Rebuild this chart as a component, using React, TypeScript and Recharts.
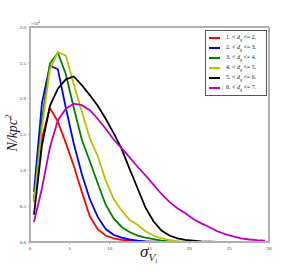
import React from 'react';
import { LineChart, Line, XAxis, YAxis, Legend } from 'recharts';

// bin centres of sigma_Vt
const sigmaBins = [
  0.5, 1.5, 2.5, 3.5, 4.5, 5.5, 6.5, 7.5, 8.5, 9.5,
  10.5, 11.5, 12.5, 13.5, 14.5, 15.5, 16.5, 17.5, 18.5, 19.5,
  20.5, 21.5, 22.5, 23.5, 24.5, 25.5, 26.5, 27.5, 28.5, 29.5,
];

// N/kpc^2 in units of 1e4
const dg1to2 = [0.6, 1.45, 1.87, 1.68, 1.38, 1.06, 0.7, 0.36, 0.18, 0.09, 0.05, 0.03, 0.02, 0.01, 0.005, 0, 0, 0, 0, 0, 0, 0, 0, 0, 0, 0, 0, 0, 0, 0];
const dg2to3 = [0.7, 1.94, 2.46, 2.41, 1.87, 1.37, 0.95, 0.6, 0.35, 0.18, 0.1, 0.06, 0.035, 0.02, 0.01, 0.005, 0, 0, 0, 0, 0, 0, 0, 0, 0, 0, 0, 0, 0, 0];
const dg3to4 = [0.57, 1.7, 2.49, 2.64, 2.34, 1.87, 1.43, 1.13, 0.82, 0.52, 0.33, 0.21, 0.14, 0.09, 0.06, 0.04, 0.02, 0.01, 0.005, 0, 0, 0, 0, 0, 0, 0, 0, 0, 0, 0];
const dg4to5 = [0.55, 1.6, 2.41, 2.65, 2.6, 2.2, 1.82, 1.45, 1.2, 0.86, 0.6, 0.44, 0.31, 0.24, 0.15, 0.09, 0.05, 0.03, 0.01, 0.005, 0, 0, 0, 0, 0, 0, 0, 0, 0, 0];
const dg5to6 = [0.38, 1.35, 1.9, 2.14, 2.27, 2.31, 2.19, 2.05, 1.9, 1.72, 1.52, 1.3, 1.02, 0.75, 0.48, 0.29, 0.16, 0.09, 0.05, 0.03, 0.02, 0.01, 0.005, 0, 0, 0, 0, 0, 0, 0];
const dg6to7 = [0.28, 0.75, 1.32, 1.7, 1.86, 1.93, 1.91, 1.84, 1.72, 1.58, 1.43, 1.31, 1.18, 1.05, 0.93, 0.8, 0.67, 0.56, 0.47, 0.4, 0.32, 0.26, 0.21, 0.15, 0.11, 0.08, 0.05, 0.035, 0.025, 0.02];

const xTicks = [0, 5, 10, 15, 20, 25, 30];
const yTicks = [0, 0.5, 1, 1.5, 2, 2.5, 3];

const series = [
  { key: 'a', lo: '1.', hi: '2.', color: '#ff0000', values: dg1to2 },
  { key: 'b', lo: '2.', hi: '3.', color: '#0000ff', values: dg2to3 },
  { key: 'c', lo: '3.', hi: '4.', color: '#008000', values: dg3to4 },
  { key: 'd', lo: '4.', hi: '5.', color: '#bfbf00', values: dg4to5 },
  { key: 'e', lo: '5.', hi: '6.', color: '#000000', values: dg5to6 },
  { key: 'f', lo: '6.', hi: '7.', color: '#bf00bf', values: dg6to7 },
];

const data = sigmaBins.map((s, i) => {
  const row: Record<string, number> = { s };
  series.forEach((sr) => { row[sr.key] = sr.values[i]; });
  return row;
});

const axisGrey = '#b0b0b0';
const serif = '"Liberation Serif", "DejaVu Serif", serif';
const tickStyle = { fill: '#333', fontSize: 5, fontFamily: serif };

const LegendBox = () => (
  <div style={{ border: '1px solid #555', background: '#fff', padding: '2px 3px', fontFamily: serif, fontSize: 6, color: '#222', width: 54 }}>
    {series.map((sr) => (
      <div key={sr.key} style={{ display: 'flex', alignItems: 'center', height: 10, whiteSpace: 'nowrap' }}>
        <span style={{ display: 'inline-block', width: 11, height: 2, background: sr.color, marginRight: 6 }} />
        <span>{sr.lo} &lt; <i>d</i><sub style={{ fontSize: 4 }}>g</sub> &lt;= {sr.hi}</span>
      </div>
    ))}
  </div>
);

const App: React.FC = () => {
  return (
    <div style={{ position: 'absolute', left: 0, top: 0, width: 300, height: 270, background: '#fff' }}>
      <LineChart width={300} height={270} data={data} margin={{ top: 26, right: 30, left: 0, bottom: 0 }}>
        <XAxis
          dataKey="s"
          type="number"
          domain={[0, 30]}
          ticks={xTicks}
          allowDataOverflow
          tick={tickStyle}
          tickSize={2}
          tickLine={{ stroke: axisGrey }}
          axisLine={{ stroke: axisGrey, strokeWidth: 2 }}
          height={28}
          label={{
            content: () => (
              <text x={140} y={257} fontFamily={serif} fontStyle="italic" fill="#222">
                <tspan fontSize={17}>σ</tspan>
                <tspan fontSize={11} dy={4}>V</tspan>
                <tspan fontSize={7} dy={2}>t</tspan>
              </text>
            ),
          }}
        />
        <XAxis
          xAxisId="top"
          orientation="top"
          dataKey="s"
          type="number"
          domain={[0, 30]}
          ticks={xTicks}
          tick={false}
          tickSize={2}
          tickLine={{ stroke: axisGrey }}
          axisLine={{ stroke: axisGrey, strokeWidth: 2 }}
          height={1}
        />
        <YAxis
          type="number"
          domain={[0, 3]}
          ticks={yTicks}
          allowDataOverflow
          tickFormatter={(v: number) => v.toFixed(1)}
          tick={tickStyle}
          tickSize={2}
          tickLine={{ stroke: axisGrey }}
          axisLine={{ stroke: axisGrey, strokeWidth: 2 }}
          width={30}
          label={{
            content: () => (
              <g>
                <text x={31} y={25} fontFamily={serif} fontSize={4.5} fill="#333">
                  ×10<tspan fontSize={3.5} dy={-2}>4</tspan>
                </text>
                <text
                  x={17}
                  y={133}
                  transform="rotate(-90 17 133)"
                  textAnchor="middle"
                  fontFamily={serif}
                  fontStyle="italic"
                  fontSize={14}
                  fill="#222"
                >
                  N/kpc<tspan fontSize={9} dy={-6}>2</tspan>
                </text>
              </g>
            ),
          }}
        />
        <YAxis
          yAxisId="right"
          orientation="right"
          type="number"
          domain={[0, 3]}
          ticks={yTicks}
          tick={false}
          tickSize={2}
          tickLine={{ stroke: axisGrey }}
          axisLine={{ stroke: axisGrey, strokeWidth: 2 }}
          width={1}
        />
        <Legend
          layout="vertical"
          verticalAlign="middle"
          align="center"
          content={() => <LegendBox />}
          wrapperStyle={{ position: 'absolute', left: 205, top: 30, width: 62, height: 62 }}
        />
        {series.map((sr) => (
          <Line
            key={sr.key}
            type="linear"
            dataKey={sr.key}
            stroke={sr.color}
            strokeWidth={1.8}
            dot={false}
            isAnimationActive={false}
          />
        ))}
      </LineChart>
    </div>
  );
};

export default App;
